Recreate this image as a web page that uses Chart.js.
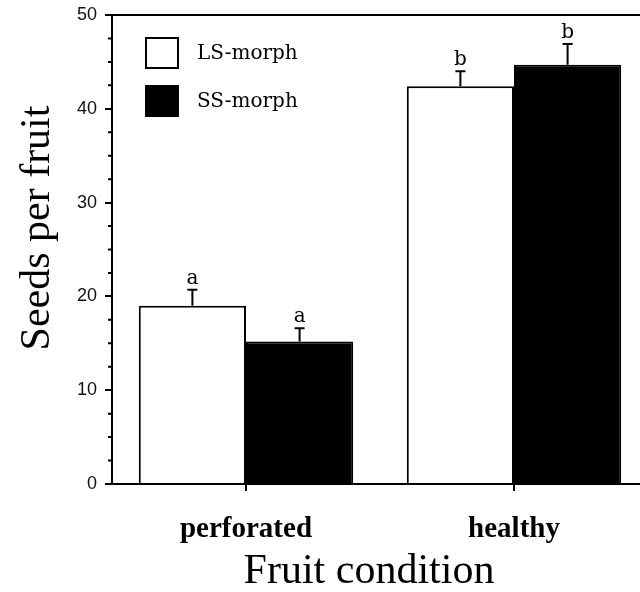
<!DOCTYPE html>
<html>
<head>
<meta charset="utf-8">
<script src="https://cdn.jsdelivr.net/npm/chart.js@4.4.1/dist/chart.umd.min.js"></script>
<style>
  body { margin: 0; background: #fff; }
  #wrap { width: 640px; height: 592px; overflow: hidden; }
</style>
</head>
<body>
<div id="wrap"><canvas id="chartSeeds" width="652" height="592"></canvas></div>
<script>
// datos
const categorias = ['perforated', 'healthy'];
const lsMorph = [19.0, 42.4];
const ssMorph = [15.2, 44.7];
const lsError = [1.7, 1.6];
const ssError = [1.4, 2.2];
const lsLetras = ['a', 'b'];
const ssLetras = ['a', 'b'];
const yTicks = [0, 10, 20, 30, 40, 50];
const yMinorStep = 2.5;

const errores = [lsError, ssError];
const letras = [lsLetras, ssLetras];

// Dibuja barras de error, letras, leyenda, marco superior y titulos
const extrasPlugin = {
    id: 'extras',
    afterDatasetsDraw(chart) {
        const ctx = chart.ctx;
        const y = chart.scales.y;
        const area = chart.chartArea;
        ctx.save();
        ctx.strokeStyle = '#000';
        ctx.fillStyle = '#000';
        ctx.lineWidth = 2;

        chart.data.datasets.forEach((ds, i) => {
            const meta = chart.getDatasetMeta(i);
            meta.data.forEach((bar, j) => {
                const top = y.getPixelForValue(ds.data[j] + errores[i][j]);
                const base = y.getPixelForValue(ds.data[j]);
                ctx.beginPath();
                ctx.moveTo(bar.x, base);
                ctx.lineTo(bar.x, top);
                ctx.moveTo(bar.x - 5, top);
                ctx.lineTo(bar.x + 5, top);
                ctx.stroke();

                ctx.font = '20px "DejaVu Serif"';
                ctx.textAlign = 'center';
                ctx.textBaseline = 'alphabetic';
                ctx.fillText(letras[i][j], bar.x, top - 6);
            });
        });

        // marco superior
        ctx.beginPath();
        ctx.moveTo(area.left, area.top);
        ctx.lineTo(area.right, area.top);
        ctx.stroke();

        // marcas menores del eje y
        ctx.beginPath();
        for (let v = 0; v <= 50; v += yMinorStep) {
            if (v % 10 === 0) continue;
            const py = y.getPixelForValue(v);
            ctx.moveTo(area.left - 4, py);
            ctx.lineTo(area.left, py);
        }
        ctx.stroke();

        // leyenda
        ctx.font = '20px "DejaVu Serif"';
        ctx.textAlign = 'left';
        ctx.textBaseline = 'middle';
        chart.data.datasets.forEach((ds, i) => {
            const by = 38 + i * 48;
            ctx.fillStyle = ds.backgroundColor;
            ctx.fillRect(146, by, 32, 30);
            ctx.strokeRect(146, by, 32, 30);
            ctx.fillStyle = '#000';
            ctx.fillText(ds.label, 197, by + 16);
        });

        // titulos de ejes
        ctx.font = '42px "Liberation Serif"';
        ctx.textAlign = 'center';
        ctx.textBaseline = 'middle';
        ctx.fillText('Fruit condition', 369, 572);
        ctx.translate(38, 228);
        ctx.rotate(-Math.PI / 2);
        ctx.fillText('Seeds per fruit', 0, 0);
        ctx.restore();
    }
};

const ctx = document.getElementById('chartSeeds').getContext('2d');
const chartSeeds = new Chart(ctx, {
    type: 'bar',
    data: {
        labels: categorias,
        datasets: [{
            label: 'LS-morph',
            data: lsMorph,
            backgroundColor: '#fff',
            borderColor: '#000',
            borderWidth: 2,
            categoryPercentage: 0.8,
            barPercentage: 1.0
        }, {
            label: 'SS-morph',
            data: ssMorph,
            backgroundColor: '#000',
            borderColor: '#000',
            borderWidth: 2,
            categoryPercentage: 0.8,
            barPercentage: 1.0
        }]
    },
    options: {
        responsive: false,
        animation: false,
        layout: { padding: { left: 0, top: 15, right: 4, bottom: 0 } },
        plugins: {
            legend: { display: false },
            tooltip: { enabled: false }
        },
        scales: {
            x: {
                grid: {
                    offset: false,
                    drawOnChartArea: false,
                    tickLength: 7,
                    color: '#000',
                    lineWidth: 2
                },
                border: { display: true, color: '#000', width: 2 },
                ticks: {
                    color: '#000',
                    padding: 21,
                    font: { family: '"Liberation Serif"', size: 29, weight: 'bold' }
                },
                afterFit(scale) {
                    scale.height = 108;
                    scale.paddingLeft = 0;
                    scale.paddingRight = 0;
                }
            },
            y: {
                min: 0,
                max: 50,
                afterBuildTicks(scale) { scale.ticks = yTicks.map(v => ({ value: v })); },
                grid: {
                    drawOnChartArea: false,
                    tickLength: 7,
                    color: '#000',
                    lineWidth: 2
                },
                border: { display: true, color: '#000', width: 2 },
                ticks: {
                    color: '#111',
                    padding: 8,
                    font: { family: '"Liberation Sans"', size: 18 }
                },
                afterFit(scale) {
                    scale.width = 112;
                    scale.paddingTop = 0;
                    scale.paddingBottom = 0;
                }
            }
        }
    },
    plugins: [extrasPlugin]
});
</script>
</body>
</html>
